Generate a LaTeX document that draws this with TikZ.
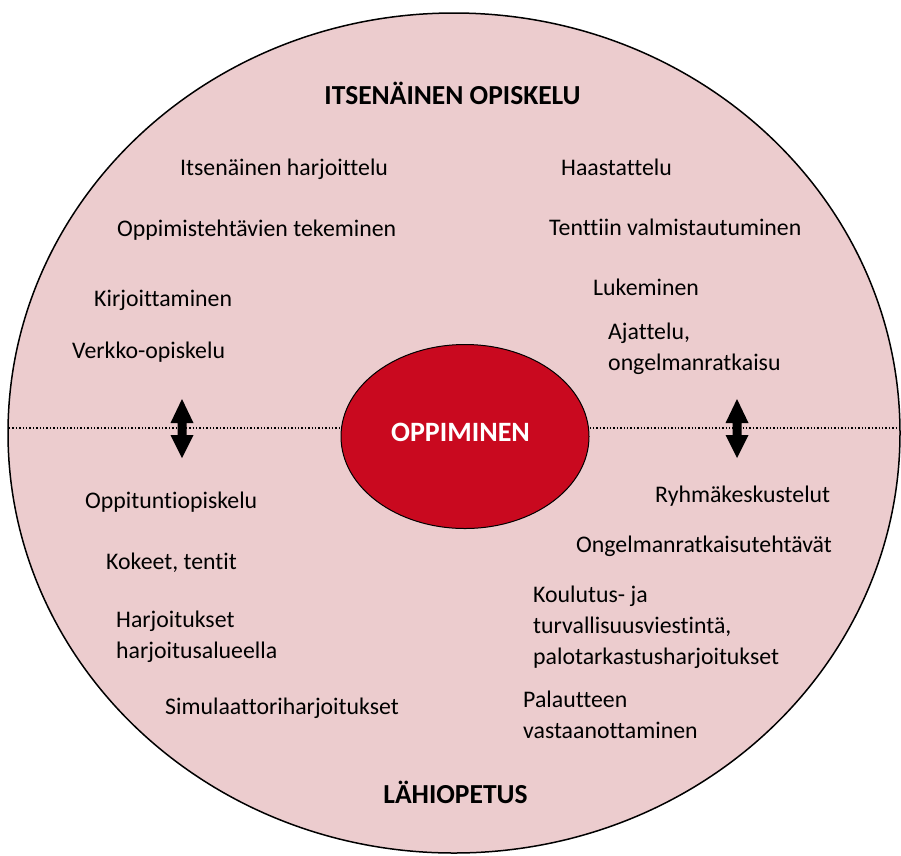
\documentclass[tikz,border=0pt]{standalone}
\usepackage{fontspec}
\setmainfont[Ligatures={NoCommon}]{Carlito}
\usetikzlibrary{shapes.geometric}
\definecolor{bgpink}{RGB}{236,204,206}
\definecolor{corered}{RGB}{201,9,31}
\tikzset{
  item/.style={anchor=base west, inner sep=0pt, align=left, font=\fontsize{23.8}{31}\selectfont},
  heading/.style={anchor=base, inner sep=0pt, font=\fontsize{27.5}{33}\selectfont\bfseries},
  sep/.style={dotted, line width=1.4pt},
  updown/.style={fill=black},
}
\begin{document}
\begin{tikzpicture}[x=1pt,y=-1pt]
\useasboundingbox (0,0) rectangle (901,855);
\clip (0,0) rectangle (901,855);
\node[ellipse, draw=black, line width=1.5pt, fill=bgpink, minimum width=892, minimum height=840, inner sep=0pt] (outer) at (454,433) {};
\coordinate (lw) at (9,428);
\coordinate (re) at (901,428);
\node[ellipse, draw=black, line width=1pt, fill=corered, minimum width=248, minimum height=184, inner sep=0pt] (core) at (465,436.5) {};
\node[anchor=base, inner sep=0pt, text=white, font=\fontsize{28}{33}\selectfont\bfseries] (corelabel) at (460.5,441) {OPPIMINEN};
\draw[sep] (lw) -- (core.west |- lw);
\draw[sep] (core.east |- re) -- (re);
\foreach \cx in {182,737}{
  \fill[updown] (\cx,399) -- (\cx+11.5,423) -- (\cx+4.5,423) -- (\cx+4.5,435) -- (\cx+11.5,435) -- (\cx,458) -- (\cx-11.5,435) -- (\cx-4.5,435) -- (\cx-4.5,423) -- (\cx-11.5,423) -- cycle;
}
\node[heading] (top) at (452.5,104) {ITSENÄINEN OPISKELU};
\node[heading] (bottom) at (455.5,803) {LÄHIOPETUS};
\node[item] (a1) at (180,175) {Itsenäinen harjoittelu};
\node[item] (a2) at (117,236) {Oppimistehtävien tekeminen};
\node[item] (a3) at (94,306) {Kirjoittaminen};
\node[item] (a4) at (72,358) {Verkko-opiskelu};
\node[item] (b1) at (561,175) {Haastattelu};
\node[item] (b2) at (549,235) {Tenttiin valmistautuminen};
\node[item] (b3) at (593,295) {Lukeminen};
\node[item] (b4) at (608,370) {Ajattelu,\\ongelmanratkaisu};
\node[item] (c1) at (85,508) {Oppituntiopiskelu};
\node[item] (c2) at (106,569) {Kokeet, tentit};
\node[item] (c3) at (116,658) {Harjoitukset\\harjoitusalueella};
\node[item] (c4) at (165,714) {Simulaattoriharjoitukset};
\node[item] (d1) at (655,502) {Ryhmäkeskustelut};
\node[item] (d2) at (576,552) {Ongelmanratkaisutehtävät};
\node[item] (d3) at (533,664) {Koulutus- ja\\turvallisuusviestintä,\\palotarkastusharjoitukset};
\node[item] (d4) at (523,738) {Palautteen\\vastaanottaminen};
\end{tikzpicture}
\end{document}
